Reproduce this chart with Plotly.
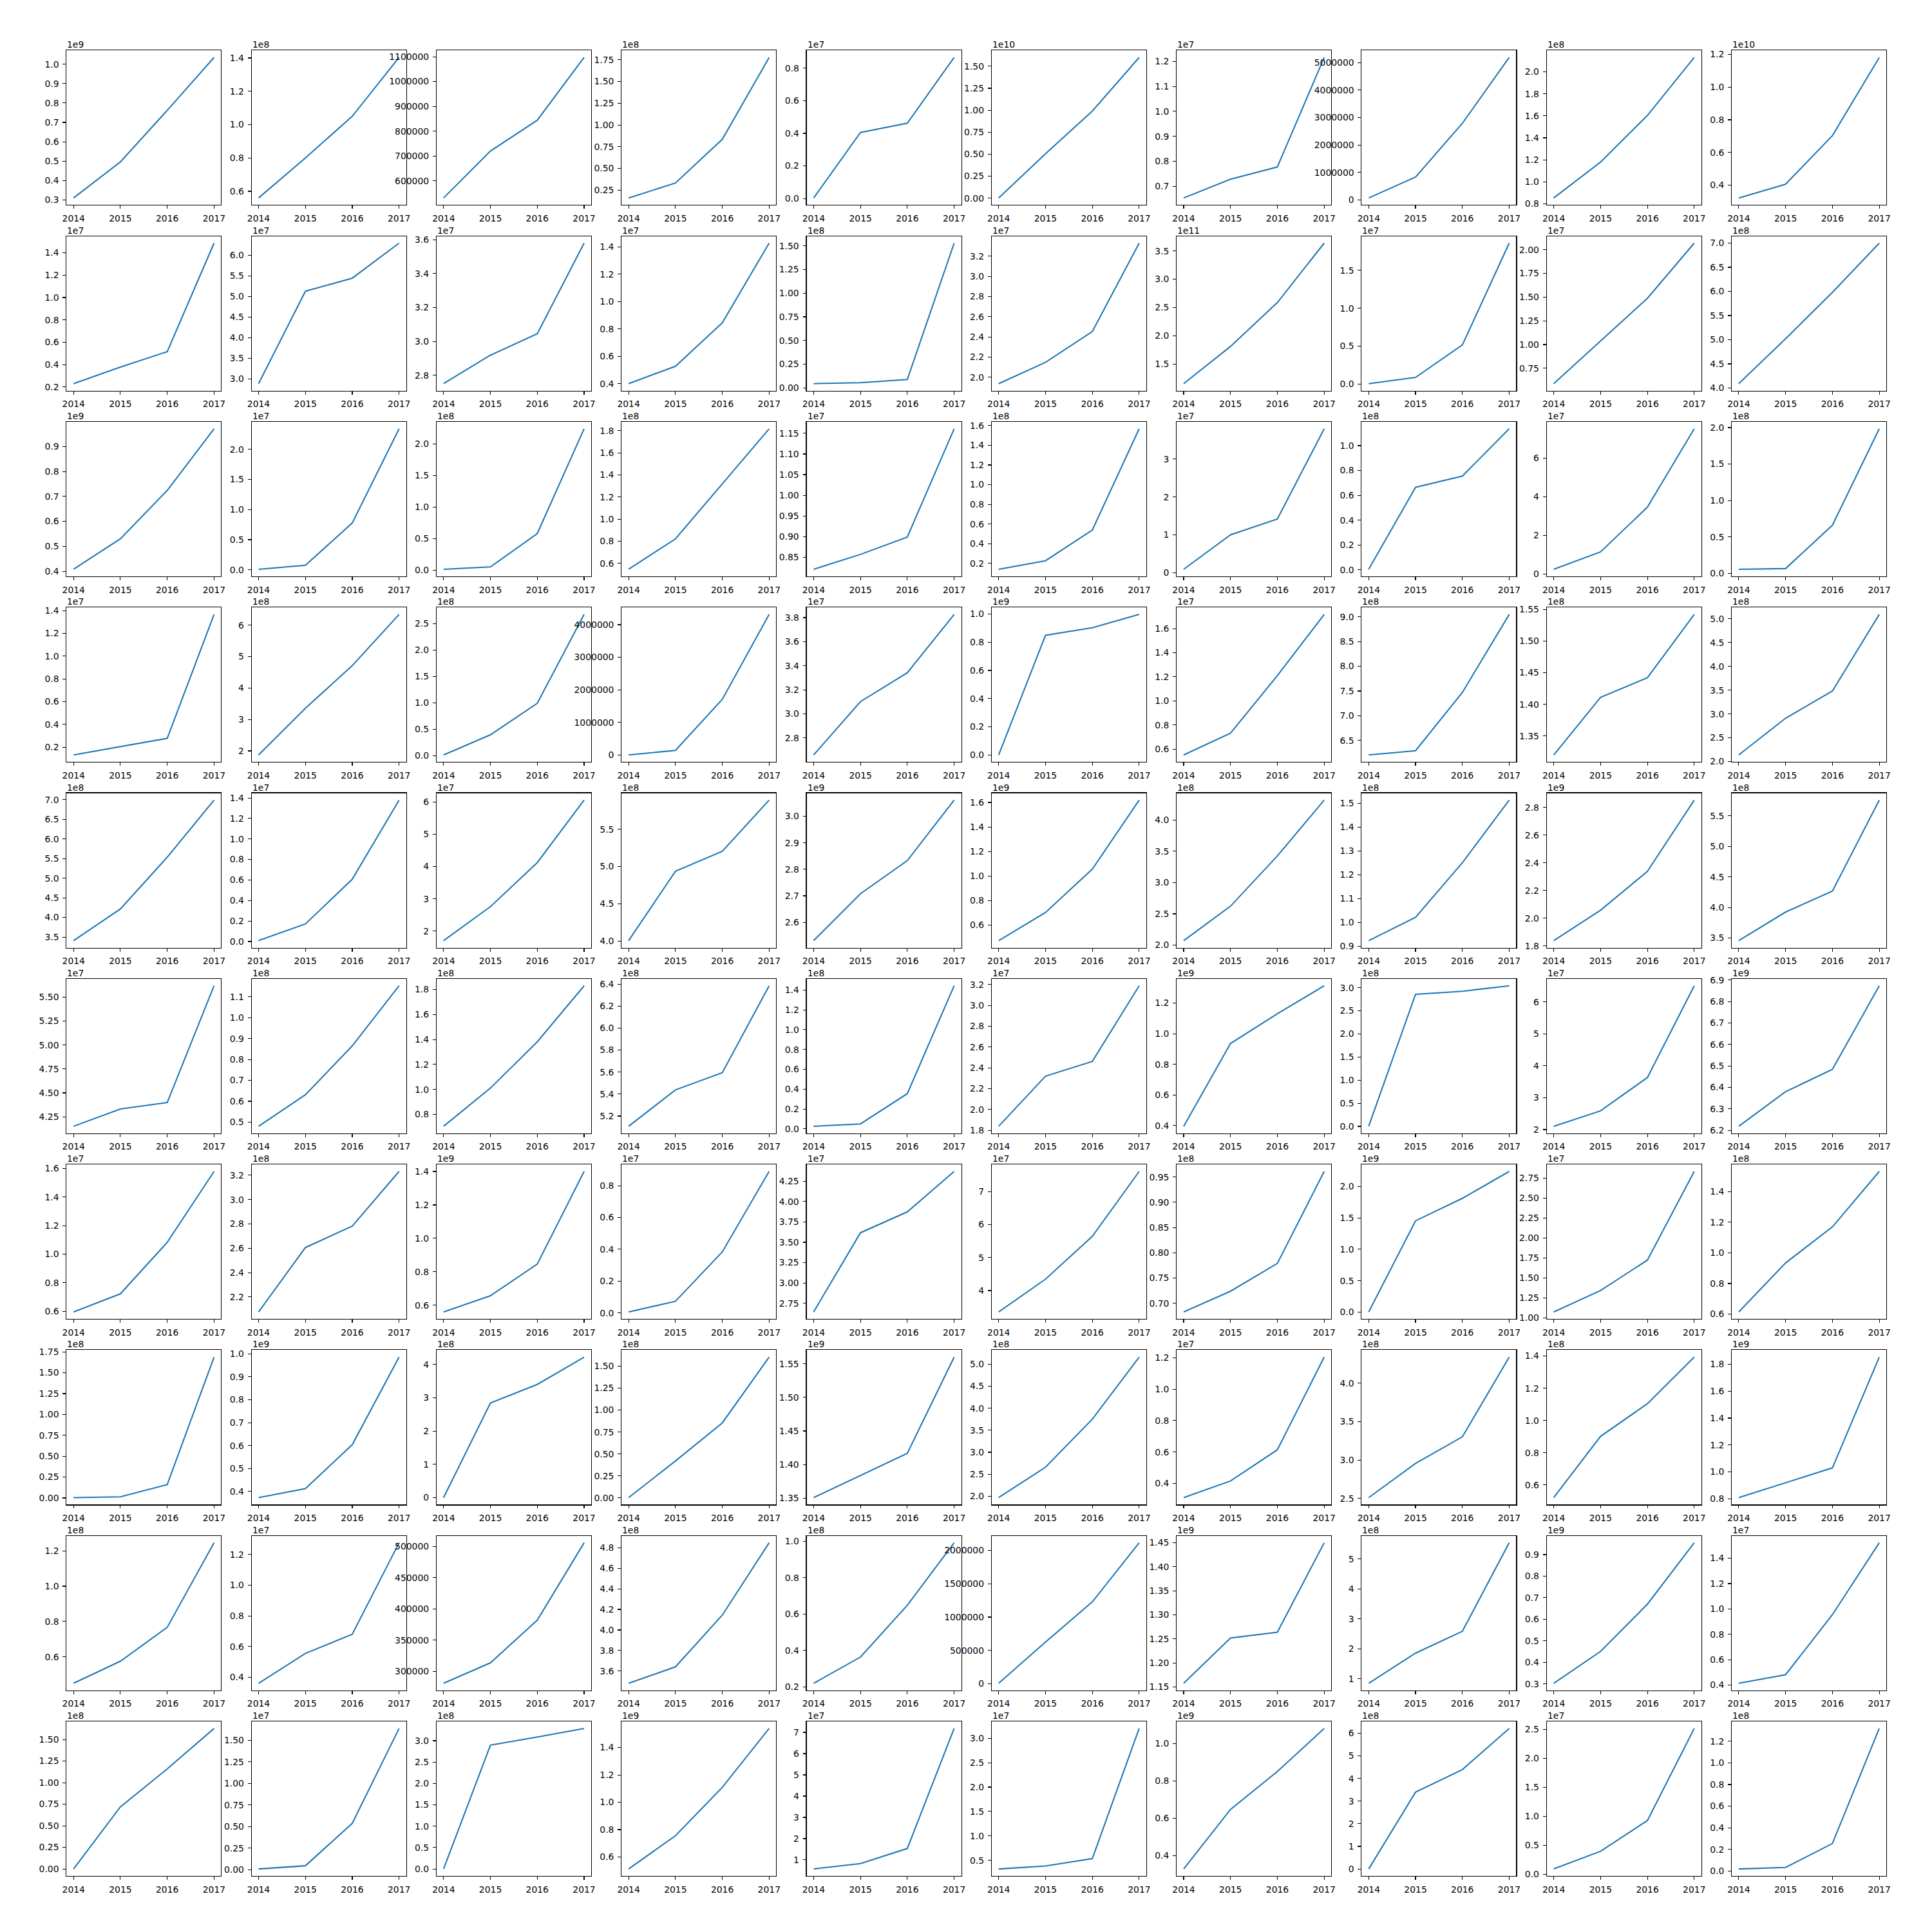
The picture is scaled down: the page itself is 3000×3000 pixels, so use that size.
import math
import numpy as np
import plotly.graph_objects as go

years = [2014, 2015, 2016, 2017]

row_01 = [
    [0.310e9, 0.496e9, 0.762e9, 1.035e9],
    [0.560e8, 0.800e8, 1.050e8, 1.403e8],
    [531000, 720000, 844000, 1097000],
    [0.160e8, 0.332e8, 0.835e8, 1.777e8],
    [0.003e7, 0.405e7, 0.462e7, 0.866e7],
    [0.002e10, 0.504e10, 0.990e10, 1.600e10],
    [0.653e7, 0.728e7, 0.777e7, 1.216e7],
    [70000, 830000, 2790000, 5190000],
    [0.854e8, 1.180e8, 1.603e8, 2.130e8],
    [0.322e10, 0.406e10, 0.703e10, 1.181e10],
]
row_02 = [
    [0.230e7, 0.378e7, 0.516e7, 1.487e7],
    [2.885e7, 5.126e7, 5.443e7, 6.293e7],
    [2.751e7, 2.919e7, 3.045e7, 3.580e7],
    [0.400e7, 0.527e7, 0.845e7, 1.428e7],
    [0.045e8, 0.055e8, 0.088e8, 1.528e8],
    [1.937e7, 2.148e7, 2.453e7, 3.329e7],
    [1.157e11, 1.814e11, 2.588e11, 3.638e11],
    [0.006e7, 0.088e7, 0.516e7, 1.859e7],
    [0.588e7, 1.038e7, 1.488e7, 2.070e7],
    [4.090e8, 5.020e8, 5.980e8, 7.000e8],
]
row_03 = [
    [0.408e9, 0.530e9, 0.724e9, 0.971e9],
    [0.008e7, 0.075e7, 0.777e7, 2.343e7],
    [0.015e8, 0.053e8, 0.581e8, 2.242e8],
    [0.546e8, 0.821e8, 1.319e8, 1.817e8],
    [0.821e7, 0.857e7, 0.899e7, 1.161e7],
    [0.140e8, 0.227e8, 0.539e8, 1.568e8],
    [0.094e7, 1.004e7, 1.419e7, 3.798e7],
    [0.004e8, 0.664e8, 0.755e8, 1.136e8],
    [0.240e7, 1.146e7, 3.462e7, 7.530e7],
    [0.055e8, 0.065e8, 0.660e8, 1.984e8],
]
row_04 = [
    [0.131e7, 0.204e7, 0.277e7, 1.367e7],
    [1.872e8, 3.356e8, 4.712e8, 6.339e8],
    [0.013e8, 0.394e8, 0.990e8, 2.670e8],
    [5000, 145000, 1709000, 4313000],
    [2.659e7, 3.102e7, 3.342e7, 3.826e7],
    [0.000e9, 0.849e9, 0.903e9, 0.997e9],
    [0.551e7, 0.732e7, 1.210e7, 1.718e7],
    [6.207e8, 6.293e8, 7.471e8, 9.048e8],
    [1.320e8, 1.411e8, 1.442e8, 1.542e8],
    [2.139e8, 2.910e8, 3.483e8, 5.090e8],
]
row_05 = [
    [3.409e8, 4.217e8, 5.535e8, 6.990e8],
    [0.009e7, 0.172e7, 0.607e7, 1.379e7],
    [1.705e7, 2.759e7, 4.122e7, 6.059e7],
    [4.006e8, 4.937e8, 5.204e8, 5.891e8],
    [2.531e9, 2.708e9, 2.833e9, 3.061e9],
    [0.474e9, 0.703e9, 1.057e9, 1.619e9],
    [2.072e8, 2.622e8, 3.423e8, 4.315e8],
    [0.923e8, 1.021e8, 1.250e8, 1.513e8],
    [1.838e9, 2.058e9, 2.338e9, 2.853e9],
    [3.457e8, 3.924e8, 4.267e8, 5.757e8],
]
row_06 = [
    [4.151e7, 4.332e7, 4.399e7, 5.619e7],
    [0.480e8, 0.631e8, 0.865e8, 1.153e8],
    [0.705e8, 1.011e8, 1.381e8, 1.830e8],
    [5.107e8, 5.438e8, 5.594e8, 6.385e8],
    [0.026e8, 0.050e8, 0.355e8, 1.443e8],
    [1.839e7, 2.320e7, 2.462e7, 3.188e7],
    [0.395e9, 0.936e9, 1.130e9, 1.313e9],
    [0.002e8, 2.856e8, 2.923e8, 3.041e8],
    [2.104e7, 2.588e7, 3.631e7, 6.507e7],
    [6.219e9, 6.380e9, 6.484e9, 6.873e9],
]
row_07 = [
    [0.595e7, 0.722e7, 1.083e7, 1.580e7],
    [2.077e8, 2.606e8, 2.782e8, 3.231e8],
    [0.560e9, 0.657e9, 0.846e9, 1.400e9],
    [0.006e7, 0.073e7, 0.384e7, 0.890e7],
    [2.645e7, 3.617e7, 3.873e7, 4.369e7],
    [3.351e7, 4.346e7, 5.644e7, 7.612e7],
    [0.683e8, 0.724e8, 0.779e8, 0.961e8],
    [0.004e9, 1.453e9, 1.811e9, 2.238e9],
    [1.074e7, 1.342e7, 1.723e7, 2.833e7],
    [0.614e8, 0.934e8, 1.170e8, 1.532e8],
]
row_08 = [
    [0.004e8, 0.013e8, 0.160e8, 1.687e8],
    [0.373e9, 0.412e9, 0.604e9, 0.986e9],
    [0.000e8, 2.843e8, 3.400e8, 4.221e8],
    [0.003e8, 0.420e8, 0.854e8, 1.603e8],
    [1.3507e9, 1.3836e9, 1.4166e9, 1.5600e9],
    [1.968e8, 2.659e8, 3.751e8, 5.162e8],
    [0.309e7, 0.415e7, 0.614e7, 1.205e7],
    [2.510e8, 2.955e8, 3.302e8, 4.340e8],
    [0.522e8, 0.902e8, 1.104e8, 1.393e8],
    [0.809e9, 0.920e9, 1.030e9, 1.853e9],
]
row_09 = [
    [0.450e8, 0.575e8, 0.767e8, 1.246e8],
    [0.360e7, 0.555e7, 0.680e7, 1.277e7],
    [281000, 313700, 382000, 505900],
    [3.481e8, 3.641e8, 4.144e8, 4.848e8],
    [0.220e8, 0.364e8, 0.648e8, 0.991e8],
    [7000, 625000, 1228000, 2114000],
    [1.1577e9, 1.2520e9, 1.2638e9, 1.4500e9],
    [0.853e8, 1.859e8, 2.587e8, 5.540e8],
    [0.303e9, 0.451e9, 0.670e9, 0.955e9],
    [0.4135e7, 0.481e7, 0.955e7, 1.522e7],
]
row_10 = [
    [0.000e8, 0.719e8, 1.159e8, 1.628e8],
    [0.009e7, 0.046e7, 0.537e7, 1.637e7],
    [0.000e8, 2.897e8, 3.087e8, 3.287e8],
    [0.512e9, 0.755e9, 1.109e9, 1.540e9],
    [0.571e7, 0.826e7, 1.534e7, 7.186e7],
    [0.323e7, 0.384e7, 0.535e7, 3.202e7],
    [0.3275e9, 0.647e9, 0.851e9, 1.082e9],
    [0.000e8, 3.396e8, 4.394e8, 6.217e8],
    [0.089e7, 0.394e7, 0.924e7, 2.513e7],
    [0.020e8, 0.034e8, 0.255e8, 1.318e8],
]

all_rows = [row_01, row_02, row_03, row_04, row_05,
            row_06, row_07, row_08, row_09, row_10]

# ---------- matplotlib-2.x-like tick locator / formatter ----------
STEPS = np.array([0.1, 0.2, 0.25, 0.5, 1, 2, 2.5, 5, 10, 20])


def scale_range(vmin, vmax, n=1, threshold=100):
    dv = abs(vmax - vmin)
    meanv = (vmax + vmin) / 2
    if abs(meanv) / dv < threshold:
        offset = 0
    else:
        offset = math.copysign(10 ** (math.log10(abs(meanv)) // 1), meanv)
    scale = 10 ** (math.log10(dv / n) // 1)
    return scale, offset


def mpl_ticks(vmin, vmax, nbins=8):
    scale, offset = scale_range(vmin, vmax, nbins)
    _vmin, _vmax = vmin - offset, vmax - offset
    raw_step = (vmax - vmin) / nbins
    steps = STEPS * scale
    istep = int(np.nonzero(steps >= raw_step)[0][0])
    ticks = None
    for k in reversed(range(istep + 1)):
        step = steps[k]
        best_vmin = (_vmin // step) * step
        d, m = divmod(_vmin - best_vmin, step)
        low = d + 1 if abs(m / step - 1) < 1e-10 else d
        d, m = divmod(_vmax - best_vmin, step)
        high = d if abs(m / step) < 1e-10 else d + 1
        ticks = np.arange(low, high + 1) * step + best_vmin
        nt = ((ticks <= _vmax) & (ticks >= _vmin)).sum()
        if nt >= 2:
            break
    return ticks + offset


def mpl_format(locs, limits=(-7, 7)):
    a = np.abs(locs)
    val = max(a[0], a[-1])
    oom = 0 if val == 0 else math.floor(math.log10(val))
    if limits[0] < oom < limits[1]:
        oom = 0
    sl = np.asarray(locs) / 10.0 ** oom
    rng = np.ptp(sl)
    if rng == 0:
        rng = np.max(np.abs(sl)) or 1
    rng_oom = int(math.floor(math.log10(rng)))
    sig = max(0, 3 - rng_oom)
    thresh = 1e-3 * 10 ** rng_oom
    while sig >= 0:
        if np.abs(sl - np.round(sl, decimals=sig)).max() < thresh:
            sig -= 1
        else:
            break
    sig += 1
    labels = []
    for v in sl:
        if abs(v) < 1e-8:
            v = 0.0
        labels.append(("%1." + str(sig) + "f") % v)
    return oom, labels


# ---------- layout geometry (pixels in a 3000x3000 figure) ----------
W = H = 3000
AX = 240.0
LEFT0, DX = 103.3, 287.3
TOP0, DY = 78.3, 288.3

FONT = dict(family="DejaVu Sans", size=13.9, color="black")
fig = go.Figure()
layout = {}
annotations = []

xspan = years[-1] - years[0]
xr = [years[0] - 0.05 * xspan, years[-1] + 0.05 * xspan]

for r, row in enumerate(all_rows):
    for c, vals in enumerate(row):
        i = r * 10 + c + 1
        s = "" if i == 1 else str(i)
        left = LEFT0 + DX * c
        top = TOP0 + DY * r
        xd = [left / W, (left + AX) / W]
        yd = [1 - (top + AX) / H, 1 - top / H]

        fig.add_trace(go.Scatter(
            x=years, y=vals, mode="lines",
            line=dict(color="#1f77b4", width=2.08),
            xaxis="x" + s, yaxis="y" + s,
            showlegend=False, hoverinfo="skip"))

        lo, hi = min(vals), max(vals)
        d = hi - lo
        vmin, vmax = lo - 0.05 * d, hi + 0.05 * d
        locs = mpl_ticks(vmin, vmax, 8)
        oom, labels = mpl_format(locs)
        tv, tt = [], []
        for L, T in zip(locs, labels):
            if vmin - 1e-9 * d <= L <= vmax + 1e-9 * d:
                tv.append(L)
                tt.append(T)

        common = dict(showgrid=False, zeroline=False, showline=True,
                      mirror=True, linecolor="black", linewidth=1.1,
                      ticks="outside", ticklen=4.9, tickwidth=1.1,
                      tickcolor="black", tickfont=FONT, fixedrange=True,
                      automargin=False)
        layout["xaxis" + s] = dict(
            domain=xd, anchor="y" + s, range=xr,
            tickmode="array", tickvals=years,
            ticktext=[str(y) for y in years],
            ticklabelstandoff=3, **common)
        layout["yaxis" + s] = dict(
            domain=yd, anchor="x" + s, range=[vmin, vmax],
            tickmode="array", tickvals=tv, ticktext=tt,
            ticklabelstandoff=3, **common)
        if oom != 0:
            annotations.append(dict(
                text="1e%d" % oom, xref="paper", yref="paper",
                x=xd[0], y=yd[1], xanchor="left", yanchor="bottom",
                showarrow=False, font=FONT, borderpad=0))

fig.update_layout(**layout)
fig.update_layout(
    template="none",
    width=W, height=H, autosize=False,
    margin=dict(l=0, r=0, t=0, b=0, pad=0, autoexpand=False),
    paper_bgcolor="white", plot_bgcolor="white",
    annotations=annotations, showlegend=False,
    font=FONT)

fig.write_html(
    "out.html",
    config={"displayModeBar": False, "staticPlot": True},
    post_script="document.body.style.margin='0px';document.body.style.padding='0px';")
